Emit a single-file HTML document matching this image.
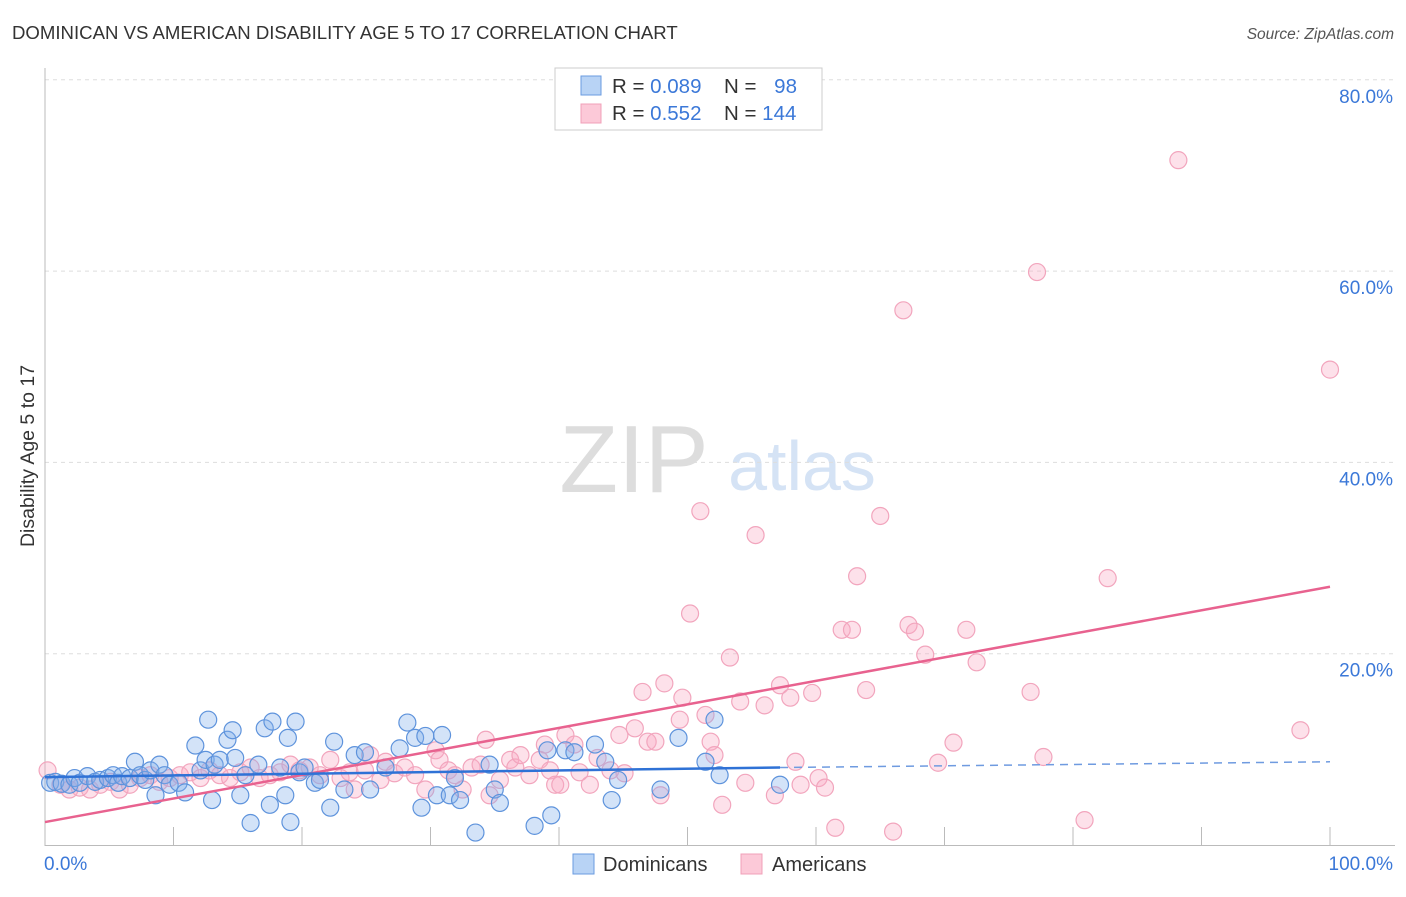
<!DOCTYPE html>
<html><head><meta charset="utf-8"><style>
body{margin:0;background:#fff;font-family:"Liberation Sans",sans-serif}
svg text{font-family:"Liberation Sans",sans-serif}
</style></head><body>
<svg id="c" width="1406" height="892" xmlns="http://www.w3.org/2000/svg">
<text x="12" y="39" font-size="18.6" fill="#333">DOMINICAN VS AMERICAN DISABILITY AGE 5 TO 17 CORRELATION CHART</text>
<text x="1394" y="39" font-size="15.5" fill="#555" font-style="italic" text-anchor="end">Source: ZipAtlas.com</text>
<text x="34" y="456" font-size="19.5" fill="#333" text-anchor="middle" transform="rotate(-90 34 456)">Disability Age 5 to 17</text>
<g>
<text x="634" y="492" font-size="96" fill="#ddd" text-anchor="middle" font-family="Liberation Serif,serif">ZIP</text>
<text x="802" y="490" font-size="70" fill="#d5e3f5" text-anchor="middle">atlas</text>
</g>
<g id="grid"></g><g id="axes"></g><g id="pts"></g><g id="lines"></g>
<g>
<rect x="555" y="68" width="267" height="62" fill="#fff" stroke="#ccc"/>
<rect x="581" y="76" width="20" height="19" fill="#b8d3f5" stroke="#6a9be0"/>
<rect x="581" y="104" width="20" height="19" fill="#fcc9d8" stroke="#f0a0b8"/>
<text x="612" y="93" font-size="20.5" fill="#333">R = <tspan fill="#3b78d8">0.089</tspan></text>
<text x="724" y="93" font-size="20.5" fill="#333">N = <tspan fill="#3b78d8" dx="12">98</tspan></text>
<text x="612" y="120" font-size="20.5" fill="#333">R = <tspan fill="#3b78d8">0.552</tspan></text>
<text x="724" y="120" font-size="20.5" fill="#333">N = <tspan fill="#3b78d8">144</tspan></text>
</g>
<g>
<rect x="573" y="854" width="21" height="20" fill="#b8d3f5" stroke="#6a9be0"/>
<text x="603" y="871" font-size="20" fill="#333">Dominicans</text>
<rect x="741" y="854" width="21" height="20" fill="#fcc9d8" stroke="#f0a0b8"/>
<text x="772" y="871" font-size="20" fill="#333">Americans</text>
</g>
</svg>
<script>
const yTicks=[20,40,60,80];
const yTickLabels=["20.0%","40.0%","60.0%","80.0%"];
const xTickLabels=["0.0%","100.0%"];
const bx=[0.4,0.8,1.3,1.9,2.3,2.7,3.3,3.9,4.3,4.9,5.3,5.7,6.0,6.6,7.0,7.4,7.8,8.2,8.6,8.9,9.3,9.7,10.4,10.9,11.7,12.1,12.5,12.7,13.0,13.2,13.6,14.2,14.6,14.8,15.2,15.6,16.0,16.6,17.1,17.5,17.7,18.3,18.7,18.9,19.1,19.5,19.8,20.2,21.0,21.4,22.2,22.5,23.3,24.1,24.9,25.3,26.5,27.6,28.2,28.8,29.3,29.6,30.5,30.9,31.5,31.9,32.3,33.5,34.6,35.0,35.4,38.1,39.1,39.4,40.5,41.2,42.8,43.6,44.1,44.6,47.9,49.3,51.4,52.1,52.5,57.2];
const by=[6.5,6.6,6.4,6.3,7.0,6.5,7.2,6.6,6.8,7.0,7.3,6.5,7.2,7.0,8.7,7.3,6.8,7.8,5.2,8.4,7.3,6.3,6.5,5.5,10.4,7.8,8.9,13.1,4.7,8.4,8.9,11.0,12.0,9.1,5.2,7.3,2.3,8.4,12.2,4.2,12.9,8.1,5.2,11.2,2.4,12.9,7.6,8.1,6.5,6.8,3.9,10.8,5.8,9.4,9.7,5.8,8.1,10.1,12.8,11.2,3.9,11.4,5.2,11.5,5.2,7.0,4.7,1.3,8.4,5.8,4.4,2.0,9.9,3.1,9.9,9.7,10.5,8.7,4.7,6.8,5.8,11.2,8.7,13.1,7.3,6.3];
const ax=[0.2,1.2,1.9,2.7,3.5,4.3,5.1,5.8,6.6,7.4,8.2,8.9,9.7,10.5,11.3,12.1,12.8,13.6,14.4,15.2,16.0,16.7,17.5,18.3,19.1,19.8,20.6,21.4,22.2,23.0,23.7,24.1,24.9,25.3,26.1,26.5,27.2,28.0,28.8,29.6,30.4,30.7,31.4,31.9,32.5,33.2,33.9,34.3,34.6,35.4,36.2,36.6,37.0,37.7,38.5,38.9,39.3,39.7,40.1,40.5,41.2,41.6,42.4,43.0,44.0,44.7,45.1,45.9,46.5,46.9,47.5,47.9,48.2,49.4,49.6,50.2,51.0,51.4,51.8,52.1,52.7,53.3,54.1,54.5,55.3,56.0,56.8,57.2,58.0,58.4,58.8,59.7,60.2,60.7,61.5,62.0,62.8,63.2,63.9,65.0,66.0,67.2,67.7,68.5,69.5,70.7,71.7,72.5,76.7,77.7,77.2,66.8,80.9,82.7,88.2,97.7,100];
const ay=[7.8,6.3,5.8,6.0,5.8,6.3,6.6,5.8,6.3,7.0,7.3,6.6,7.0,7.3,7.6,7.0,7.8,7.3,7.0,7.6,8.1,7.0,7.3,7.6,8.4,7.8,8.1,7.3,8.9,7.0,7.6,5.8,7.8,9.4,6.8,8.7,7.5,8.1,7.3,5.8,9.9,8.9,7.8,7.3,5.8,8.1,8.4,11.0,5.2,6.8,8.9,8.1,9.4,7.3,8.9,10.5,7.8,6.3,6.3,11.5,10.5,7.6,6.3,9.1,7.8,11.5,7.5,12.2,16.0,10.8,10.8,5.2,16.9,13.1,15.4,24.2,34.9,13.6,10.8,9.4,4.2,19.6,15.0,6.5,32.4,14.6,5.2,16.7,15.4,8.7,6.3,15.9,7.0,6.0,1.8,22.5,22.5,28.1,16.2,34.4,1.4,23.0,22.3,19.9,8.6,10.7,22.5,19.1,16.0,9.2,59.9,55.9,2.6,27.9,71.6,12.0,49.7];
const trendBlue=[7.1,8.1,57.2];
const trendBlueEnd=8.7;
const trendPink=[2.4,27.0];
const NS="http://www.w3.org/2000/svg";
const X=v=>45+v*12.85, Y=v=>845-v*9.565;
function mk(tag,attrs,parent){const e=document.createElementNS(NS,tag);for(const k in attrs)e.setAttribute(k,attrs[k]);parent.appendChild(e);return e;}
const g=document.getElementById('grid'),a=document.getElementById('axes'),p=document.getElementById('pts'),l=document.getElementById('lines');
yTicks.forEach((t,i)=>{
 const ln=mk('line',{x1:45,x2:1395,y1:Y(t),y2:Y(t),stroke:'#ddd','stroke-dasharray':'4,4'},g);
 
 
 const tx=mk('text',{x:1393,y:Y(t)+23,'font-size':19,fill:'#3b78d8','text-anchor':'end'},a);
 tx.textContent=yTickLabels[i];
 
 
});
const ya=mk('line',{x1:45,x2:45,y1:68,y2:846,stroke:'#bbb'},a);


const xa=mk('line',{x1:45,x2:1395,y1:845.5,y2:845.5,stroke:'#bbb'},a);


for(let i=1;i<=10;i++){const t=mk('line',{x1:X(i*10),x2:X(i*10),y1:827,y2:845,stroke:'#bbb'},a);
 
 }
[[0,'start',44],[100,'end',1393]].forEach((d,i)=>{const t=mk('text',{x:d[2],y:870,'font-size':19,fill:'#3b78d8','text-anchor':d[1]},a);t.textContent=xTickLabels[i];
 
 });
ax.forEach((v,i)=>{const c=mk('circle',{cx:X(v),cy:Y(ay[i]),r:8.5,fill:'rgba(248,170,195,0.35)',stroke:'#f2a5bd','stroke-width':1.2},p);
 
 });
bx.forEach((v,i)=>{const c=mk('circle',{cx:X(v),cy:Y(by[i]),r:8.5,fill:'rgba(130,175,235,0.35)',stroke:'#5e93dc','stroke-width':1.2},p);
 
 });
const pl=mk('line',{x1:X(0),y1:Y(trendPink[0]),x2:X(100),y2:Y(trendPink[1]),stroke:'#e8628f','stroke-width':2.5},l);


const bl=mk('line',{x1:X(0),y1:Y(trendBlue[0]),x2:X(trendBlue[2]),y2:Y(trendBlue[1]),stroke:'#2f72d6','stroke-width':2.5},l);


const bd=mk('line',{x1:X(trendBlue[2]),y1:Y(trendBlue[1]),x2:X(100),y2:Y(trendBlueEnd),stroke:'#6f9be0','stroke-width':1.5,'stroke-dasharray':'8,6'},l);


</script>
</body></html>
